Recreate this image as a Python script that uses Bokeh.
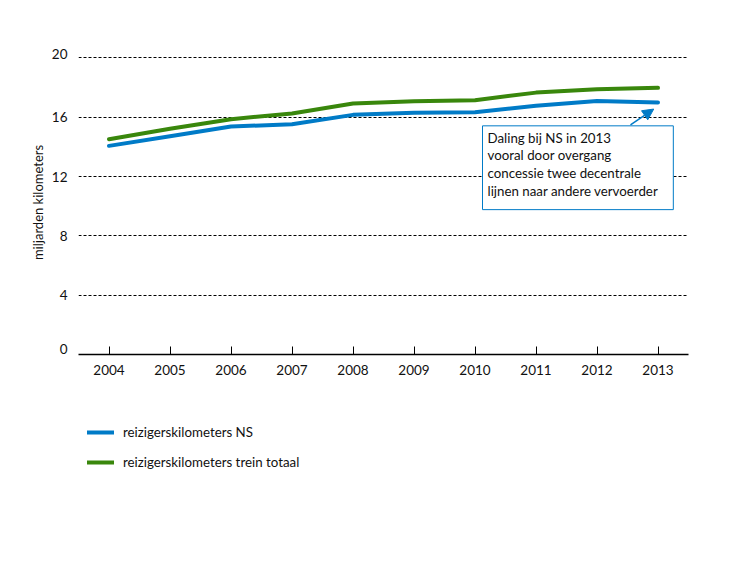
from bokeh.plotting import figure
from bokeh.layouts import column
from bokeh.models import (Range1d, FixedTicker, Legend, LegendItem, Label, Arrow, NormalHead)
from bokeh.embed import file_html
from bokeh.resources import INLINE

years = [2004, 2005, 2006, 2007, 2008, 2009, 2010, 2011, 2012, 2013]
ns_km = [14.07, 14.72, 15.37, 15.53, 16.16, 16.30, 16.34, 16.77, 17.10, 16.99]
totaal_km = [14.52, 15.22, 15.87, 16.25, 16.92, 17.08, 17.15, 17.66, 17.89, 17.98]
y_ticks = [0, 4, 8, 12, 16, 20]
y_tick_labels = ["0", "4", "8", "12", "16", "20"]
series_names = ["reizigerskilometers NS", "reizigerskilometers trein totaal"]
note = "Daling bij NS in 2013\nvooral door overgang\nconcessie twee decentrale\nlijnen naar andere vervoerder"

BLUE = "#007bc7"
GREEN = "#39870c"
FONT = "Lato"
TXT = "#111111"
# the outermost y tick labels are nudged up off their lines (style only)
LABEL_LIFT = [0.38, 0, 0, 0, 0, 0.25]

p = figure(width=734, height=395, output_backend="svg", toolbar_location=None,
           x_range=Range1d(2003.5, 2013.5), y_range=Range1d(0, 20.5),
           min_border_left=78, min_border_right=46, min_border_top=50, min_border_bottom=41)
p.outline_line_color = None
p.background_fill_color = None
p.border_fill_color = "white"

# grid
p.xgrid.visible = False
p.ygrid.ticker = FixedTicker(ticks=y_ticks[1:])
p.ygrid.grid_line_color = "black"
p.ygrid.grid_line_dash = "3 2"
p.ygrid.grid_line_width = 1

# x axis
p.xaxis.ticker = FixedTicker(ticks=years)
p.xaxis.axis_line_color = "black"
p.xaxis.axis_line_width = 1.5
p.xaxis.major_tick_in = 8
p.xaxis.major_tick_out = 0
p.xaxis.major_tick_line_color = "black"
p.xaxis.minor_tick_line_color = None
p.xaxis.major_label_standoff = 10
p.xaxis.major_label_text_font = FONT
p.xaxis.major_label_text_font_size = "13.5px"
p.xaxis.major_label_text_color = TXT

# y axis
label_pos = [t + d for t, d in zip(y_ticks, LABEL_LIFT)]
p.yaxis.ticker = FixedTicker(ticks=label_pos)
p.yaxis.major_label_overrides = {t: s for t, s in zip(label_pos, y_tick_labels)}
p.yaxis.axis_line_color = None
p.yaxis.major_tick_line_color = None
p.yaxis.minor_tick_line_color = None
p.yaxis.major_label_standoff = 5
p.yaxis.major_label_text_font = FONT
p.yaxis.major_label_text_font_size = "13.5px"
p.yaxis.major_label_text_color = TXT
p.yaxis.axis_label = "miljarden kilometers"
p.yaxis.axis_label_text_font = FONT
p.yaxis.axis_label_text_font_size = "13px"
p.yaxis.axis_label_text_font_style = "normal"
p.yaxis.axis_label_text_color = TXT
p.yaxis.axis_label_standoff = 3

r_ns = p.line(years, ns_km, line_color=BLUE, line_width=4, line_cap="round")
r_tot = p.line(years, totaal_km, line_color=GREEN, line_width=4, line_cap="round")

label = Label(x=2010.123, y=15.42, text=note, anchor="top_left",
              text_font=FONT, text_font_size="13.3px", text_color=TXT,
              text_line_height=1.1, padding=(5, 15, 4, 11),
              border_line_color=BLUE, border_line_width=1,
              background_fill_color="white")
p.add_layout(label)

arrow = Arrow(x_start=2012.549, y_start=15.48, x_end=2012.93, y_end=16.55,
              line_color=BLUE, line_width=1.5,
              end=NormalHead(size=11, fill_color=BLUE, line_color=BLUE))
p.add_layout(arrow)

# legend panel below the chart (series drawn outside its view, only the key shows)
lg = figure(width=734, height=157, output_backend="svg", toolbar_location=None,
            x_range=Range1d(0, 1), y_range=Range1d(0, 1),
            x_axis_type=None, y_axis_type=None,
            min_border_left=0, min_border_right=0, min_border_top=0, min_border_bottom=0)
lg.outline_line_color = None
lg.grid.visible = False
lg_ns = lg.line(years, ns_km, line_color=BLUE, line_width=4, line_cap="round")
lg_tot = lg.line(years, totaal_km, line_color=GREEN, line_width=4, line_cap="round")
legend = Legend(items=[LegendItem(label=series_names[0], renderers=[lg_ns]),
                       LegendItem(label=series_names[1], renderers=[lg_tot])],
                location=(9, 80), orientation="vertical",
                glyph_width=27, glyph_height=20, label_height=20, spacing=10,
                padding=0, margin=0, label_standoff=9,
                border_line_color=None, background_fill_alpha=0,
                label_text_font=FONT, label_text_font_size="13.3px", label_text_color=TXT)
lg.add_layout(legend, "center")

layout = column(p, lg, spacing=0)
open("out.html", "w").write(file_html(layout, INLINE))
